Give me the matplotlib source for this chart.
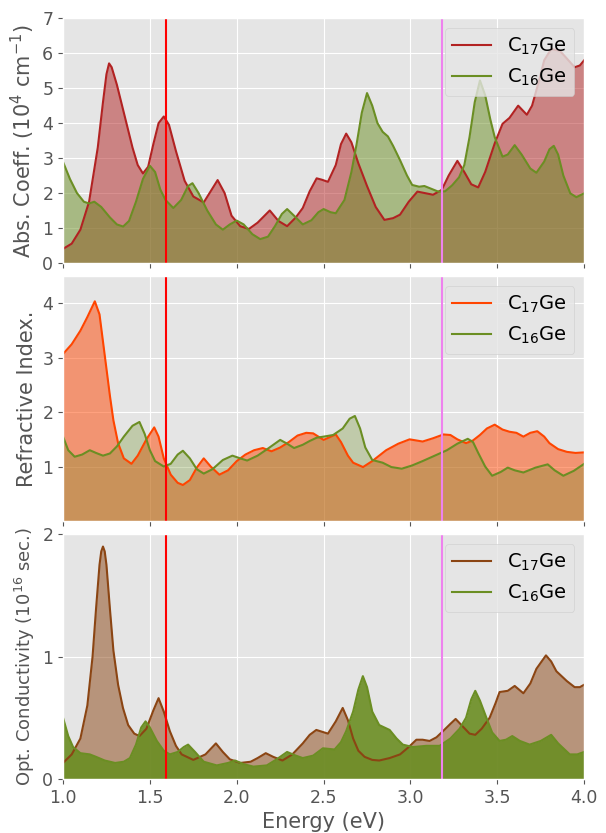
import matplotlib
matplotlib.use('Agg')
import matplotlib.pyplot as plt

# absorption coefficient (10^4 cm^-1)
abs_x_c17 = [1.00, 1.05, 1.10, 1.15, 1.20, 1.23, 1.25, 1.265, 1.28, 1.31, 1.35, 1.40, 1.43, 1.46, 1.49, 1.52, 1.55, 1.58, 1.61, 1.65,
             1.70, 1.75, 1.81, 1.85, 1.89, 1.93, 1.97, 2.02, 2.07, 2.12, 2.19, 2.24, 2.29, 2.34, 2.38, 2.42, 2.46, 2.49, 2.525, 2.57,
             2.60, 2.63, 2.66, 2.70, 2.75, 2.80, 2.85, 2.90, 2.94, 2.99, 3.04, 3.08, 3.13, 3.18, 3.22, 3.27, 3.31, 3.35, 3.39, 3.43,
             3.485, 3.53, 3.57, 3.62, 3.67, 3.70, 3.735, 3.77, 3.81, 3.86, 3.90, 3.945, 3.975, 4.00]
abs_c17 = [0.40, 0.55, 0.95, 1.75, 3.3, 4.6, 5.4, 5.71, 5.6, 5.1, 4.3, 3.3, 2.8, 2.56, 2.75, 3.4, 4.0, 4.19, 3.95, 3.2,
           2.35, 1.9, 1.73, 2.05, 2.37, 2.0, 1.35, 1.05, 0.97, 1.15, 1.5, 1.2, 1.05, 1.3, 1.57, 2.05, 2.42, 2.38, 2.32, 2.8,
           3.4, 3.70, 3.45, 2.85, 2.2, 1.6, 1.23, 1.28, 1.38, 1.75, 2.04, 2.0, 1.95, 2.09, 2.5, 2.92, 2.6, 2.25, 2.16, 2.6,
           3.42, 3.98, 4.15, 4.5, 4.24, 4.5, 5.12, 5.8, 6.12, 6.07, 5.85, 5.6, 5.65, 5.8]
abs_x_c16 = [1.00, 1.04, 1.08, 1.12, 1.15, 1.18, 1.22, 1.27, 1.31, 1.346, 1.38, 1.42, 1.46, 1.50, 1.53, 1.56, 1.59, 1.635, 1.68, 1.72,
             1.745, 1.78, 1.83, 1.88, 1.92, 1.96, 2.00, 2.04, 2.09, 2.135, 2.18, 2.22, 2.26, 2.29, 2.33, 2.38, 2.43, 2.47, 2.50, 2.54,
             2.57, 2.62, 2.66, 2.69, 2.72, 2.75, 2.78, 2.81, 2.84, 2.87, 2.90, 2.94, 2.98, 3.01, 3.05, 3.08, 3.12, 3.16, 3.20, 3.24,
             3.28, 3.31, 3.34, 3.37, 3.40, 3.43, 3.46, 3.485, 3.53, 3.56, 3.60, 3.64, 3.69, 3.725, 3.77, 3.80, 3.825, 3.85, 3.88, 3.92,
             3.955, 4.00]
abs_c16 = [2.89, 2.4, 2.0, 1.75, 1.70, 1.75, 1.6, 1.3, 1.1, 1.04, 1.2, 1.75, 2.4, 2.78, 2.6, 2.1, 1.8, 1.57, 1.8, 2.2,
           2.28, 2.0, 1.5, 1.1, 0.95, 1.1, 1.21, 1.1, 0.82, 0.68, 0.75, 1.05, 1.4, 1.54, 1.35, 1.1, 1.22, 1.45, 1.54, 1.45,
           1.42, 1.8, 2.6, 3.4, 4.3, 4.86, 4.5, 4.0, 3.75, 3.62, 3.35, 2.94, 2.5, 2.23, 2.18, 2.2, 2.12, 2.04, 2.05, 2.22,
           2.45, 2.8, 3.6, 4.6, 5.22, 4.8, 4.1, 3.6, 3.04, 3.1, 3.37, 3.1, 2.7, 2.58, 2.9, 3.25, 3.35, 3.1, 2.5, 1.99,
           1.88, 1.99]

# refractive index
ref_x_c17 = [1.00, 1.05, 1.10, 1.14, 1.183, 1.21, 1.23, 1.25, 1.27, 1.29, 1.317, 1.35, 1.394, 1.43, 1.48, 1.525, 1.55, 1.58, 1.62, 1.66,
             1.69, 1.73, 1.77, 1.81, 1.85, 1.90, 1.95, 2.00, 2.05, 2.10, 2.15, 2.20, 2.25, 2.30, 2.35, 2.40, 2.44, 2.50, 2.57, 2.60,
             2.64, 2.67, 2.727, 2.78, 2.86, 2.93, 2.995, 3.07, 3.13, 3.19, 3.23, 3.27, 3.32, 3.36, 3.40, 3.44, 3.485, 3.53, 3.57, 3.61,
             3.65, 3.69, 3.73, 3.77, 3.80, 3.85, 3.90, 3.95, 4.00]
ref_c17 = [3.07, 3.25, 3.5, 3.75, 4.04, 3.8, 3.3, 2.8, 2.3, 1.85, 1.43, 1.15, 1.05, 1.2, 1.5, 1.72, 1.55, 1.15, 0.85, 0.7,
           0.66, 0.75, 0.98, 1.15, 1.0, 0.85, 0.93, 1.1, 1.22, 1.3, 1.34, 1.28, 1.35, 1.45, 1.57, 1.62, 1.61, 1.49, 1.59, 1.45,
           1.2, 1.07, 0.99, 1.1, 1.30, 1.42, 1.5, 1.46, 1.52, 1.59, 1.58, 1.5, 1.43, 1.48, 1.58, 1.7, 1.77, 1.68, 1.64, 1.62,
           1.55, 1.62, 1.65, 1.55, 1.43, 1.32, 1.27, 1.25, 1.26]
ref_x_c16 = [1.00, 1.03, 1.067, 1.11, 1.154, 1.19, 1.23, 1.27, 1.31, 1.35, 1.40, 1.44, 1.47, 1.50, 1.53, 1.58, 1.62, 1.66, 1.69, 1.73,
             1.77, 1.81, 1.86, 1.92, 1.975, 2.02, 2.06, 2.12, 2.18, 2.25, 2.29, 2.33, 2.38, 2.42, 2.46, 2.50, 2.555, 2.61, 2.65, 2.68,
             2.71, 2.74, 2.78, 2.84, 2.89, 2.95, 3.01, 3.07, 3.14, 3.21, 3.27, 3.33, 3.36, 3.39, 3.43, 3.47, 3.52, 3.56, 3.60, 3.65,
             3.72, 3.79, 3.83, 3.88, 3.94, 4.00]
ref_c16 = [1.55, 1.3, 1.18, 1.22, 1.30, 1.25, 1.2, 1.24, 1.37, 1.55, 1.75, 1.82, 1.6, 1.3, 1.1, 1.0, 1.05, 1.22, 1.29, 1.15,
           0.95, 0.87, 0.95, 1.12, 1.2, 1.15, 1.11, 1.2, 1.33, 1.49, 1.42, 1.34, 1.40, 1.47, 1.53, 1.55, 1.58, 1.7, 1.88, 1.93,
           1.7, 1.35, 1.12, 1.07, 0.99, 0.96, 1.02, 1.10, 1.2, 1.30, 1.42, 1.51, 1.45, 1.25, 1.0, 0.83, 0.9, 0.98, 0.93, 0.89,
           0.98, 1.04, 0.93, 0.83, 0.92, 1.05]

# optical conductivity (10^16 sec.)
opt_x_c17 = [1.00, 1.05, 1.10, 1.14, 1.17, 1.19, 1.21, 1.22, 1.23, 1.24, 1.25, 1.27, 1.29, 1.317, 1.345, 1.375, 1.41, 1.44, 1.48, 1.52,
             1.55, 1.58, 1.615, 1.65, 1.683, 1.75, 1.82, 1.88, 1.92, 1.96, 2.02, 2.08, 2.12, 2.167, 2.21, 2.263, 2.32, 2.38, 2.42, 2.458,
             2.525, 2.57, 2.61, 2.64, 2.67, 2.70, 2.736, 2.78, 2.82, 2.88, 2.94, 2.99, 3.034, 3.07, 3.11, 3.15, 3.187, 3.23, 3.26, 3.30,
             3.34, 3.373, 3.41, 3.456, 3.49, 3.513, 3.56, 3.60, 3.65, 3.69, 3.725, 3.78, 3.81, 3.84, 3.87, 3.90, 3.945, 3.975, 4.00]
opt_c17 = [0.13, 0.2, 0.33, 0.6, 1.0, 1.39, 1.75, 1.86, 1.90, 1.86, 1.75, 1.39, 1.05, 0.77, 0.58, 0.44, 0.37, 0.35, 0.41, 0.56,
           0.66, 0.55, 0.39, 0.27, 0.20, 0.155, 0.2, 0.29, 0.22, 0.16, 0.13, 0.14, 0.17, 0.21, 0.18, 0.15, 0.2, 0.29, 0.36, 0.40,
           0.37, 0.47, 0.58, 0.48, 0.33, 0.23, 0.18, 0.155, 0.15, 0.17, 0.20, 0.26, 0.32, 0.32, 0.31, 0.34, 0.39, 0.45, 0.49, 0.43,
           0.37, 0.36, 0.41, 0.50, 0.62, 0.71, 0.72, 0.76, 0.70, 0.78, 0.90, 1.01, 0.96, 0.88, 0.84, 0.80, 0.75, 0.75, 0.77]
opt_x_c16 = [1.00, 1.03, 1.058, 1.10, 1.154, 1.19, 1.24, 1.30, 1.35, 1.385, 1.42, 1.45, 1.475, 1.50, 1.54, 1.58, 1.615, 1.66, 1.695, 1.72,
             1.76, 1.81, 1.885, 1.95, 1.99, 2.04, 2.096, 2.173, 2.23, 2.29, 2.34, 2.38, 2.44, 2.496, 2.563, 2.60, 2.63, 2.67, 2.70, 2.726,
             2.75, 2.78, 2.82, 2.88, 2.92, 2.956, 3.014, 3.09, 3.168, 3.23, 3.283, 3.32, 3.35, 3.373, 3.40, 3.437, 3.47, 3.513, 3.55, 3.586,
             3.63, 3.686, 3.75, 3.81, 3.85, 3.917, 3.96, 4.00]
opt_c16 = [0.50, 0.35, 0.26, 0.21, 0.20, 0.18, 0.15, 0.13, 0.14, 0.17, 0.28, 0.42, 0.47, 0.42, 0.31, 0.23, 0.2, 0.22, 0.26, 0.28,
           0.22, 0.14, 0.11, 0.13, 0.15, 0.12, 0.10, 0.11, 0.16, 0.22, 0.19, 0.17, 0.19, 0.25, 0.24, 0.3, 0.39, 0.55, 0.73, 0.84,
           0.75, 0.55, 0.44, 0.40, 0.33, 0.28, 0.26, 0.27, 0.27, 0.33, 0.41, 0.5, 0.65, 0.72, 0.64, 0.50, 0.38, 0.31, 0.32, 0.35,
           0.31, 0.28, 0.31, 0.36, 0.29, 0.20, 0.20, 0.22]

gap_1 = 1.59
gap_2 = 3.18

plt.style.use('ggplot')
fig, (ax1, ax2, ax3) = plt.subplots(3, 1, figsize=(6.06, 8.33), dpi=100, sharex=True)
fig.subplots_adjust(left=0.104, right=0.964, top=0.978, bottom=0.065, hspace=0.055)

# top: absorption
ax1.fill_between(abs_x_c17, abs_c17, 0, color='firebrick', alpha=0.5, lw=0)
ax1.fill_between(abs_x_c16, abs_c16, 0, color='olivedrab', alpha=0.5, lw=0)
ax1.plot(abs_x_c17, abs_c17, color='firebrick', lw=1.5, label=r'C$_{17}$Ge')
ax1.plot(abs_x_c16, abs_c16, color='olivedrab', lw=1.5, label=r'C$_{16}$Ge')
ax1.set_ylim(0, 7)
ax1.set_ylabel(r'Abs. Coeff. (10$^4$ cm$^{-1}$)', fontsize=15)

# middle: refractive index
ax2.fill_between(ref_x_c17, ref_c17, 0, color='orangered', alpha=0.5, lw=0)
ax2.fill_between(ref_x_c16, ref_c16, 0, color='olivedrab', alpha=0.3, lw=0)
ax2.plot(ref_x_c17, ref_c17, color='orangered', lw=1.5, label=r'C$_{17}$Ge')
ax2.plot(ref_x_c16, ref_c16, color='olivedrab', lw=1.5, label=r'C$_{16}$Ge')
ax2.set_ylim(0, 4.5)
ax2.set_yticks([1, 2, 3, 4])
ax2.set_ylabel('Refractive Index.', fontsize=15)

# bottom: optical conductivity
ax3.fill_between(opt_x_c17, opt_c17, 0, color='saddlebrown', alpha=0.5, lw=0)
ax3.fill_between(opt_x_c16, opt_c16, 0, color='olivedrab', alpha=0.9, lw=0)
ax3.plot(opt_x_c17, opt_c17, color='saddlebrown', lw=1.5, label=r'C$_{17}$Ge')
ax3.plot(opt_x_c16, opt_c16, color='olivedrab', lw=1.5, label=r'C$_{16}$Ge')
ax3.set_ylim(0, 2)
ax3.set_yticks([0, 1, 2])
ax3.set_ylabel(r'Opt. Conductivity (10$^{16}$ sec.)', fontsize=13)
ax3.set_xlabel('Energy (eV)', fontsize=15)

for ax in (ax1, ax2, ax3):
    ax.axvline(gap_1, color='red', lw=1.5)
    ax.axvline(gap_2, color='violet', lw=1.5)
    ax.set_xlim(1.0, 4.0)
    ax.tick_params(labelsize=12.5)
    ax.legend(loc='upper right', fontsize=14)

ax3.set_xticks([1.0, 1.5, 2.0, 2.5, 3.0, 3.5, 4.0])

plt.savefig('out.png', dpi=100)
